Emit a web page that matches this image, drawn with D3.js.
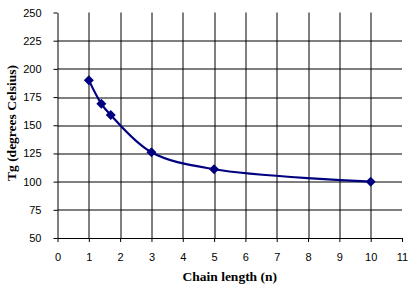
<!DOCTYPE html>
<html>
<head>
<meta charset="utf-8">
<script src="https://cdn.jsdelivr.net/npm/d3@7"></script>
<style>
body { margin: 0; background: #fff; }
svg { display: block; }
</style>
</head>
<body>
<svg id="chart" width="420" height="290"></svg>
<script>
// chain length vs glass transition temperature
var chainLen = [1, 1.4, 1.7, 3, 5, 10];
var tgValues = [190, 169, 159, 126, 111, 100];
var xTicks = [0, 1, 2, 3, 4, 5, 6, 7, 8, 9, 10, 11];
var yTicks = [50, 75, 100, 125, 150, 175, 200, 225, 250];

var svg = d3.select("#chart"),
    margin = {top: 12.5, right: 18, bottom: 52, left: 57.5},
    width = +svg.attr("width") - margin.left - margin.right,
    height = +svg.attr("height") - margin.top - margin.bottom,
    group = svg.append("g").attr("transform", "translate(" + margin.left + "," + margin.top + ")");

var xscale = d3.scaleLinear().domain([0, 11]).range([0, width]);
var yscale = d3.scaleLinear().domain([50, 250]).range([height, 0]);

// gridlines
group.append("g")
    .selectAll("line")
    .data(yTicks.filter(function(d) { return d > 50 && d < 250; }))
    .enter().append("line")
    .attr("x1", 0)
    .attr("x2", xscale(11))
    .attr("y1", function(d) { return Math.round(yscale(d)) + 0.5; })
    .attr("y2", function(d) { return Math.round(yscale(d)) + 0.5; })
    .attr("stroke", "#000");
group.append("g")
    .selectAll("line")
    .data(xTicks.filter(function(d) { return d > 0 && d < 11; }))
    .enter().append("line")
    .attr("x1", function(d) { return Math.round(xscale(d)) + 0.5; })
    .attr("x2", function(d) { return Math.round(xscale(d)) + 0.5; })
    .attr("y1", 0)
    .attr("y2", height)
    .attr("stroke", "#000");

// axes
var xAxis = d3.axisBottom(xscale).tickValues(xTicks).tickSize(4).tickSizeOuter(0).tickPadding(11);
var yAxis = d3.axisLeft(yscale).tickValues(yTicks).tickSize(4).tickSizeOuter(0).tickPadding(12);

group.append("g")
    .attr("class", "x_axis")
    .attr("transform", "translate(0," + height + ")")
    .call(xAxis);
group.append("g")
    .attr("class", "y_axis")
    .call(yAxis);

group.selectAll(".x_axis text, .y_axis text")
    .attr("font-family", "Liberation Sans, Arial, sans-serif")
    .attr("font-size", 11)
    .attr("fill", "#000");
group.selectAll(".domain, .tick line").attr("stroke", "#000");

// line + markers
var pts = chainLen.map(function(d, i) { return [d, tgValues[i]]; });
var line = d3.line()
    .x(function(d) { return xscale(d[0]); })
    .y(function(d) { return yscale(d[1]); })
    .curve(d3.curveCatmullRom.alpha(0.5));

group.append("path")
    .datum(pts)
    .attr("d", line)
    .attr("fill", "none")
    .attr("stroke", "#000080")
    .attr("stroke-width", 2.2);

group.append("g")
    .selectAll("path")
    .data(pts)
    .enter().append("path")
    .attr("transform", function(d) { return "translate(" + xscale(d[0]) + "," + yscale(d[1]) + ")"; })
    .attr("d", "M0,-5L5,0L0,5L-5,0Z")
    .attr("fill", "#000080");

// axis titles
svg.append("text")
    .attr("x", margin.left + width / 2)
    .attr("y", 281)
    .attr("text-anchor", "middle")
    .attr("font-family", "Liberation Serif, Times New Roman, serif")
    .attr("font-weight", "bold")
    .attr("font-size", 13.5)
    .text("Chain length (n)");

svg.append("text")
    .attr("transform", "translate(16,123) rotate(-90)")
    .attr("text-anchor", "middle")
    .attr("font-family", "Liberation Serif, Times New Roman, serif")
    .attr("font-weight", "bold")
    .attr("font-size", 13.5)
    .text("Tg (degrees Celsius)");
</script>
</body>
</html>
